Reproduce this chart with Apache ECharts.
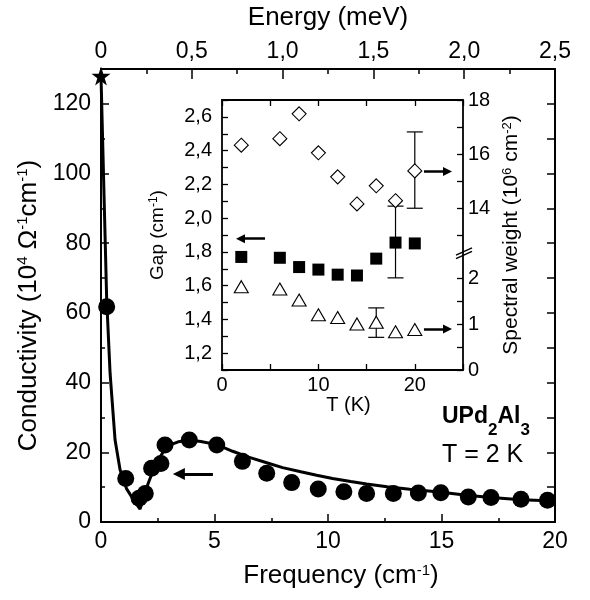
<!DOCTYPE html>
<html><head><meta charset="utf-8">
<script src="https://cdn.jsdelivr.net/npm/echarts@6/dist/echarts.min.js"></script>
<style>html,body{margin:0;padding:0;background:#fff}#c{width:590px;height:600px}</style>
</head><body><div id="c"></div>
<script>
// ---------- data ----------
const freq = [0.25, 1.09, 1.68, 1.95, 2.23, 2.64, 2.82, 3.89, 5.1, 6.23, 7.3, 8.4, 9.57, 10.7, 11.7, 12.88, 13.98, 14.97, 16.18, 17.18, 18.5, 19.67];
const cond = [61.8, 12.5, 6.8, 8.2, 15.4, 16.8, 22.1, 23.5, 22.1, 17.4, 14.0, 11.3, 9.5, 8.7, 8.2, 8.2, 8.3, 8.4, 7.2, 7.0, 6.5, 6.25];
const fitFreq = [0, 0.25, 0.4, 0.62, 0.84, 1.13, 1.45, 1.72, 2.08, 2.4, 2.9, 3.4, 3.9, 4.4, 5.1, 5.8, 6.5, 7.3, 8.0, 8.8, 9.5, 10.2, 11.0, 11.7, 12.6, 13.6, 14.9, 16.2, 17.2, 18.5, 20];
const fitCond = [128, 64, 42.7, 23.5, 15, 9.5, 6.2, 3.7, 11.1, 16.5, 21.8, 23.0, 23.5, 23.1, 22.2, 20.3, 18.6, 17.0, 15.6, 14.4, 13.4, 12.5, 11.6, 10.9, 10.1, 9.4, 8.6, 7.6, 7.0, 6.4, 6.0];
const starPoint = [0, 128];

const tempK = [2, 6, 8, 10, 12, 14, 16, 18, 20];
const gapVals = [1.77, 1.765, 1.71, 1.695, 1.665, 1.66, 1.76, 1.855, 1.85];
const swHigh = [16.33, 16.57, 17.49, 16.05, 15.16, 14.16, 14.83, 14.28, 15.38];
const swLow = [1.81, 1.76, 1.52, 1.2, 1.14, 1.0, 1.04, 0.83, 0.88];
const gapErr = [[18, 1.646, 2.071]];
const swHighErr = [[20, 14.0, 16.82]];
const swLowErr = [[16, 0.71, 1.35]];

// arrows (data units of their own panels)
const mainArrow = [[4.93, 13.8], [3.43, 13.8]];
const gapArrow = [[4.46, 1.878], [1.92, 1.878]];
const swHighArrow = [[20.95, 15.36], [23.39, 15.36]];
const swLowArrow = [[20.95, 0.89], [23.39, 0.89]];

// tick labels
const freqTicks = [0, 5, 10, 15, 20];
const condTicks = [0, 20, 40, 60, 80, 100, 120];
const energyTickLabels = ['0', '0,5', '1,0', '1,5', '2,0', '2,5'];
const tTicks = [0, 10, 20];
const gapTickLabels = ['1,2', '1,4', '1,6', '1,8', '2,0', '2,2', '2,4', '2,6'];
const swHighTicks = [14, 16, 18];
const swLowTicks = [0, 1, 2];

// ---------- helpers ----------
const FONT = '"Liberation Sans", Arial, Helvetica, sans-serif';
const K = '#000';
const zip = (a, b) => a.map((v, i) => [v, b[i]]);
const near = (a, b) => Math.abs(a - b) < 1e-6;
const inList = list => v => list.some(t => near(t, v)) ? String(v) : '';
const STAR = 'path://M50,0 L61.8,35.3 L99,35.3 L69,57.3 L80.3,92.7 L50,71 L19.7,92.7 L31,57.3 L1,35.3 L38.2,35.3 Z';

function tick(len, w) { return { show: true, inside: true, length: len, lineStyle: { color: K, width: w } }; }
function line(w, show = true) { return { show, onZero: false, lineStyle: { color: K, width: w } }; }
function lab(size, margin, formatter, show = true) {
  return { show, color: K, fontFamily: FONT, fontSize: size, margin, formatter, showMinLabel: true, showMaxLabel: true };
}
function nameStyle(size, supSize, padding) {
  return {
    color: K, fontFamily: FONT, fontSize: size, padding: padding || [0, 0, 0, 0],
    rich: { sup: { color: K, fontFamily: FONT, fontSize: supSize, verticalAlign: 'top' } }
  };
}
function errorBar(capHalf) {
  return function (params, api) {
    const x = api.value(0);
    const lo = api.coord([x, api.value(1)]);
    const hi = api.coord([x, api.value(2)]);
    const st = { stroke: K, lineWidth: 1.2 };
    return {
      type: 'group', children: [
        { type: 'line', shape: { x1: lo[0], y1: lo[1], x2: hi[0], y2: hi[1] }, style: st },
        { type: 'line', shape: { x1: lo[0] - capHalf, y1: lo[1], x2: lo[0] + capHalf, y2: lo[1] }, style: st },
        { type: 'line', shape: { x1: hi[0] - capHalf, y1: hi[1], x2: hi[0] + capHalf, y2: hi[1] }, style: st }
      ]
    };
  };
}
function arrow(pts, width, size) {
  return {
    silent: true, symbol: ['none', 'triangle'], symbolSize: size, label: { show: false },
    lineStyle: { color: K, width, type: 'solid', opacity: 1 }, itemStyle: { color: K, opacity: 1 },
    emphasis: { disabled: true }, animation: false,
    data: [[{ coord: pts[0] }, { coord: pts[1] }]]
  };
}
const solid = { color: K, opacity: 1 };
const hollow = { color: '#fff', borderColor: K, borderWidth: 1.1, opacity: 1 };

const option = {
  backgroundColor: '#fff',
  animation: false,
  grid: [
    { left: 101, right: 35, top: 69, bottom: 78, containLabel: false, outerBoundsMode: 'none' },
    { left: 222, right: 127, top: 100, bottom: 230, containLabel: false, outerBoundsMode: 'none' },
    { left: 222, right: 127, top: 100, height: 135.3, containLabel: false, outerBoundsMode: 'none' },
    { left: 222, right: 127, top: 278, bottom: 230, containLabel: false, outerBoundsMode: 'none' }
  ],
  xAxis: [
    { gridIndex: 0, type: 'value', position: 'bottom', min: 0, max: 20, interval: 5,
      axisLine: line(2), axisTick: tick(8, 1.5),
      minorTick: { show: true, splitNumber: 2, length: 4, lineStyle: { color: K, width: 1.5 } },
      splitLine: { show: false }, minorSplitLine: { show: false },
      axisLabel: lab(23, 8, inList(freqTicks)),
      name: 'Frequency (cm{sup|-1})', nameLocation: 'middle', nameGap: 41,
      nameTextStyle: nameStyle(26, 15, [0, 0, 0, 26]) },
    { gridIndex: 0, type: 'value', position: 'top', min: 0, max: 2.5, interval: 0.5,
      axisLine: line(2), axisTick: tick(10, 1.5),
      minorTick: { show: true, splitNumber: 2, length: 5, lineStyle: { color: K, width: 1.5 } },
      splitLine: { show: false }, minorSplitLine: { show: false },
      axisLabel: lab(23, 6, v => { const i = Math.round(v / 0.5); return near(v, i * 0.5) ? energyTickLabels[i] : ''; }),
      name: 'Energy (meV)', nameLocation: 'middle', nameGap: 38,
      nameTextStyle: nameStyle(26, 15) },
    { gridIndex: 1, type: 'value', position: 'bottom', min: 0, max: 25, interval: 5,
      axisLine: line(1.8), axisTick: tick(6, 1.3), splitLine: { show: false },
      axisLabel: lab(20, 5, inList(tTicks)),
      name: 'T (K)', nameLocation: 'middle', nameGap: 23,
      nameTextStyle: nameStyle(20, 13, [0, 0, 0, 12]) },
    { gridIndex: 1, type: 'value', position: 'top', min: 0, max: 25, interval: 5,
      axisLine: line(1.8), axisTick: tick(6, 1.3), splitLine: { show: false },
      axisLabel: { show: false } },
    { gridIndex: 2, type: 'value', min: 0, max: 25, show: false },
    { gridIndex: 3, type: 'value', min: 0, max: 25, show: false }
  ],
  yAxis: [
    { gridIndex: 0, type: 'value', position: 'left', min: 0, max: 130, interval: 20,
      axisLine: line(2), axisTick: tick(8, 1.5), splitLine: { show: false },
      axisLabel: lab(23, 10, inList(condTicks)),
      name: 'Conductivity (10{sup|4} Ω{sup|-1}cm{sup|-1})', nameLocation: 'middle', nameGap: 55, nameRotate: 90,
      nameTextStyle: nameStyle(26, 15, [0, 20, 0, 0]) },
    { gridIndex: 0, type: 'value', position: 'left', min: 0, max: 130, interval: 10,
      axisLine: line(2, false), axisTick: tick(4, 1.5), splitLine: { show: false }, axisLabel: { show: false } },
    { gridIndex: 0, type: 'value', position: 'right', min: 0, max: 130, interval: 10,
      axisLine: line(2), axisTick: tick(8, 1.5), splitLine: { show: false }, axisLabel: { show: false } },
    { gridIndex: 1, type: 'value', position: 'left', min: 1.1, max: 2.7, interval: 0.1,
      axisLine: line(1.8), axisTick: tick(6, 1.3), splitLine: { show: false },
      axisLabel: lab(20, 10, v => { const i = Math.round((v - 1.2) / 0.2); return (i >= 0 && i < gapTickLabels.length && near(v, 1.2 + i * 0.2)) ? gapTickLabels[i] : ''; }),
      name: 'Gap (cm{sup|-1})', nameLocation: 'middle', nameGap: 55, nameRotate: 90,
      nameTextStyle: nameStyle(19, 12) },
    { gridIndex: 1, type: 'value', position: 'right', min: 0, max: 1,
      axisLine: line(1.8), axisTick: { show: false }, splitLine: { show: false }, axisLabel: { show: false },
      name: 'Spectral weight (10{sup|6} cm{sup|-2})', nameLocation: 'middle', nameGap: 38, nameRotate: 90,
      nameTextStyle: nameStyle(21, 13) },
    { gridIndex: 2, type: 'value', position: 'right', min: 13, max: 18, interval: 1,
      axisLine: line(1.8, false), axisTick: tick(6, 1.3), splitLine: { show: false },
      axisLabel: lab(20, 5, inList(swHighTicks)) },
    { gridIndex: 3, type: 'value', position: 'right', min: 0, max: 2, interval: 0.5,
      axisLine: line(1.8, false), axisTick: tick(6, 1.3), splitLine: { show: false },
      axisLabel: lab(20, 5, inList(swLowTicks)) }
  ],
  series: [
    { type: 'line', xAxisIndex: 0, yAxisIndex: 0, data: zip(fitFreq, fitCond), symbol: 'none', showSymbol: false,
      lineStyle: { color: K, width: 3, opacity: 1 }, itemStyle: solid, z: 2, silent: true },
    { type: 'scatter', xAxisIndex: 0, yAxisIndex: 0, data: zip(freq, cond), symbol: 'circle', symbolSize: 17,
      itemStyle: solid, z: 3, clip: false, silent: true, markLine: arrow(mainArrow, 3, 12) },
    { type: 'scatter', xAxisIndex: 0, yAxisIndex: 0, data: [starPoint], symbol: STAR, symbolSize: 19,
      itemStyle: solid, z: 4, clip: false, silent: true },

    { type: 'custom', xAxisIndex: 2, yAxisIndex: 3, data: gapErr, renderItem: errorBar(8), encode: { x: 0, y: [1, 2] }, z: 2, silent: true, clip: false },
    { type: 'scatter', xAxisIndex: 2, yAxisIndex: 3, data: zip(tempK, gapVals), symbol: 'rect', symbolSize: 12,
      itemStyle: solid, z: 3, clip: false, silent: true, markLine: arrow(gapArrow, 2.5, 9) },

    { type: 'custom', xAxisIndex: 4, yAxisIndex: 5, data: swHighErr, renderItem: errorBar(8), encode: { x: 0, y: [1, 2] }, z: 2, silent: true, clip: false },
    { type: 'scatter', xAxisIndex: 4, yAxisIndex: 5, data: zip(tempK, swHigh), symbol: 'diamond', symbolSize: 14,
      itemStyle: hollow, z: 3, clip: false, silent: true, markLine: arrow(swHighArrow, 2.5, 9) },

    { type: 'custom', xAxisIndex: 5, yAxisIndex: 6, data: swLowErr, renderItem: errorBar(8), encode: { x: 0, y: [1, 2] }, z: 2, silent: true, clip: false },
    { type: 'scatter', xAxisIndex: 5, yAxisIndex: 6, data: zip(tempK, swLow), symbol: 'triangle', symbolSize: [14, 12],
      itemStyle: hollow, z: 3, clip: false, silent: true, markLine: arrow(swLowArrow, 2.5, 9) }
  ],
  graphic: [
    { type: 'text', left: 442, top: 405, z: 50, silent: true,
      style: { text: '{b|UPd}{s|2}{b|Al}{s|3}', fill: K,
        rich: {
          b: { fontFamily: FONT, fontSize: 23, fontWeight: 'bold', fill: K, color: K, lineHeight: 24, verticalAlign: 'top' },
          s: { fontFamily: FONT, fontSize: 17, fontWeight: 'bold', fill: K, color: K, lineHeight: 17, verticalAlign: 'top', padding: [17, 0, 0, 0] }
        } } },
    { type: 'text', left: 442, top: 443, z: 50, silent: true,
      style: { text: 'T = 2 K', fontFamily: FONT, fontSize: 25, fill: K } },
    { type: 'group', z: 60, silent: true, children: [
      { type: 'rect', shape: { x: 460.5, y: 252.6, width: 6, height: 2.2 }, style: { fill: '#fff' } },
      { type: 'line', shape: { x1: 456, y1: 255.1, x2: 472, y2: 247.9 }, style: { stroke: K, lineWidth: 1.5 } },
      { type: 'line', shape: { x1: 456, y1: 258.6, x2: 472, y2: 251.4 }, style: { stroke: K, lineWidth: 1.5 } }
    ] }
  ]
};

const chart = echarts.init(document.getElementById('c'), null, { renderer: 'canvas' });
chart.setOption(option);
</script>
</body></html>
